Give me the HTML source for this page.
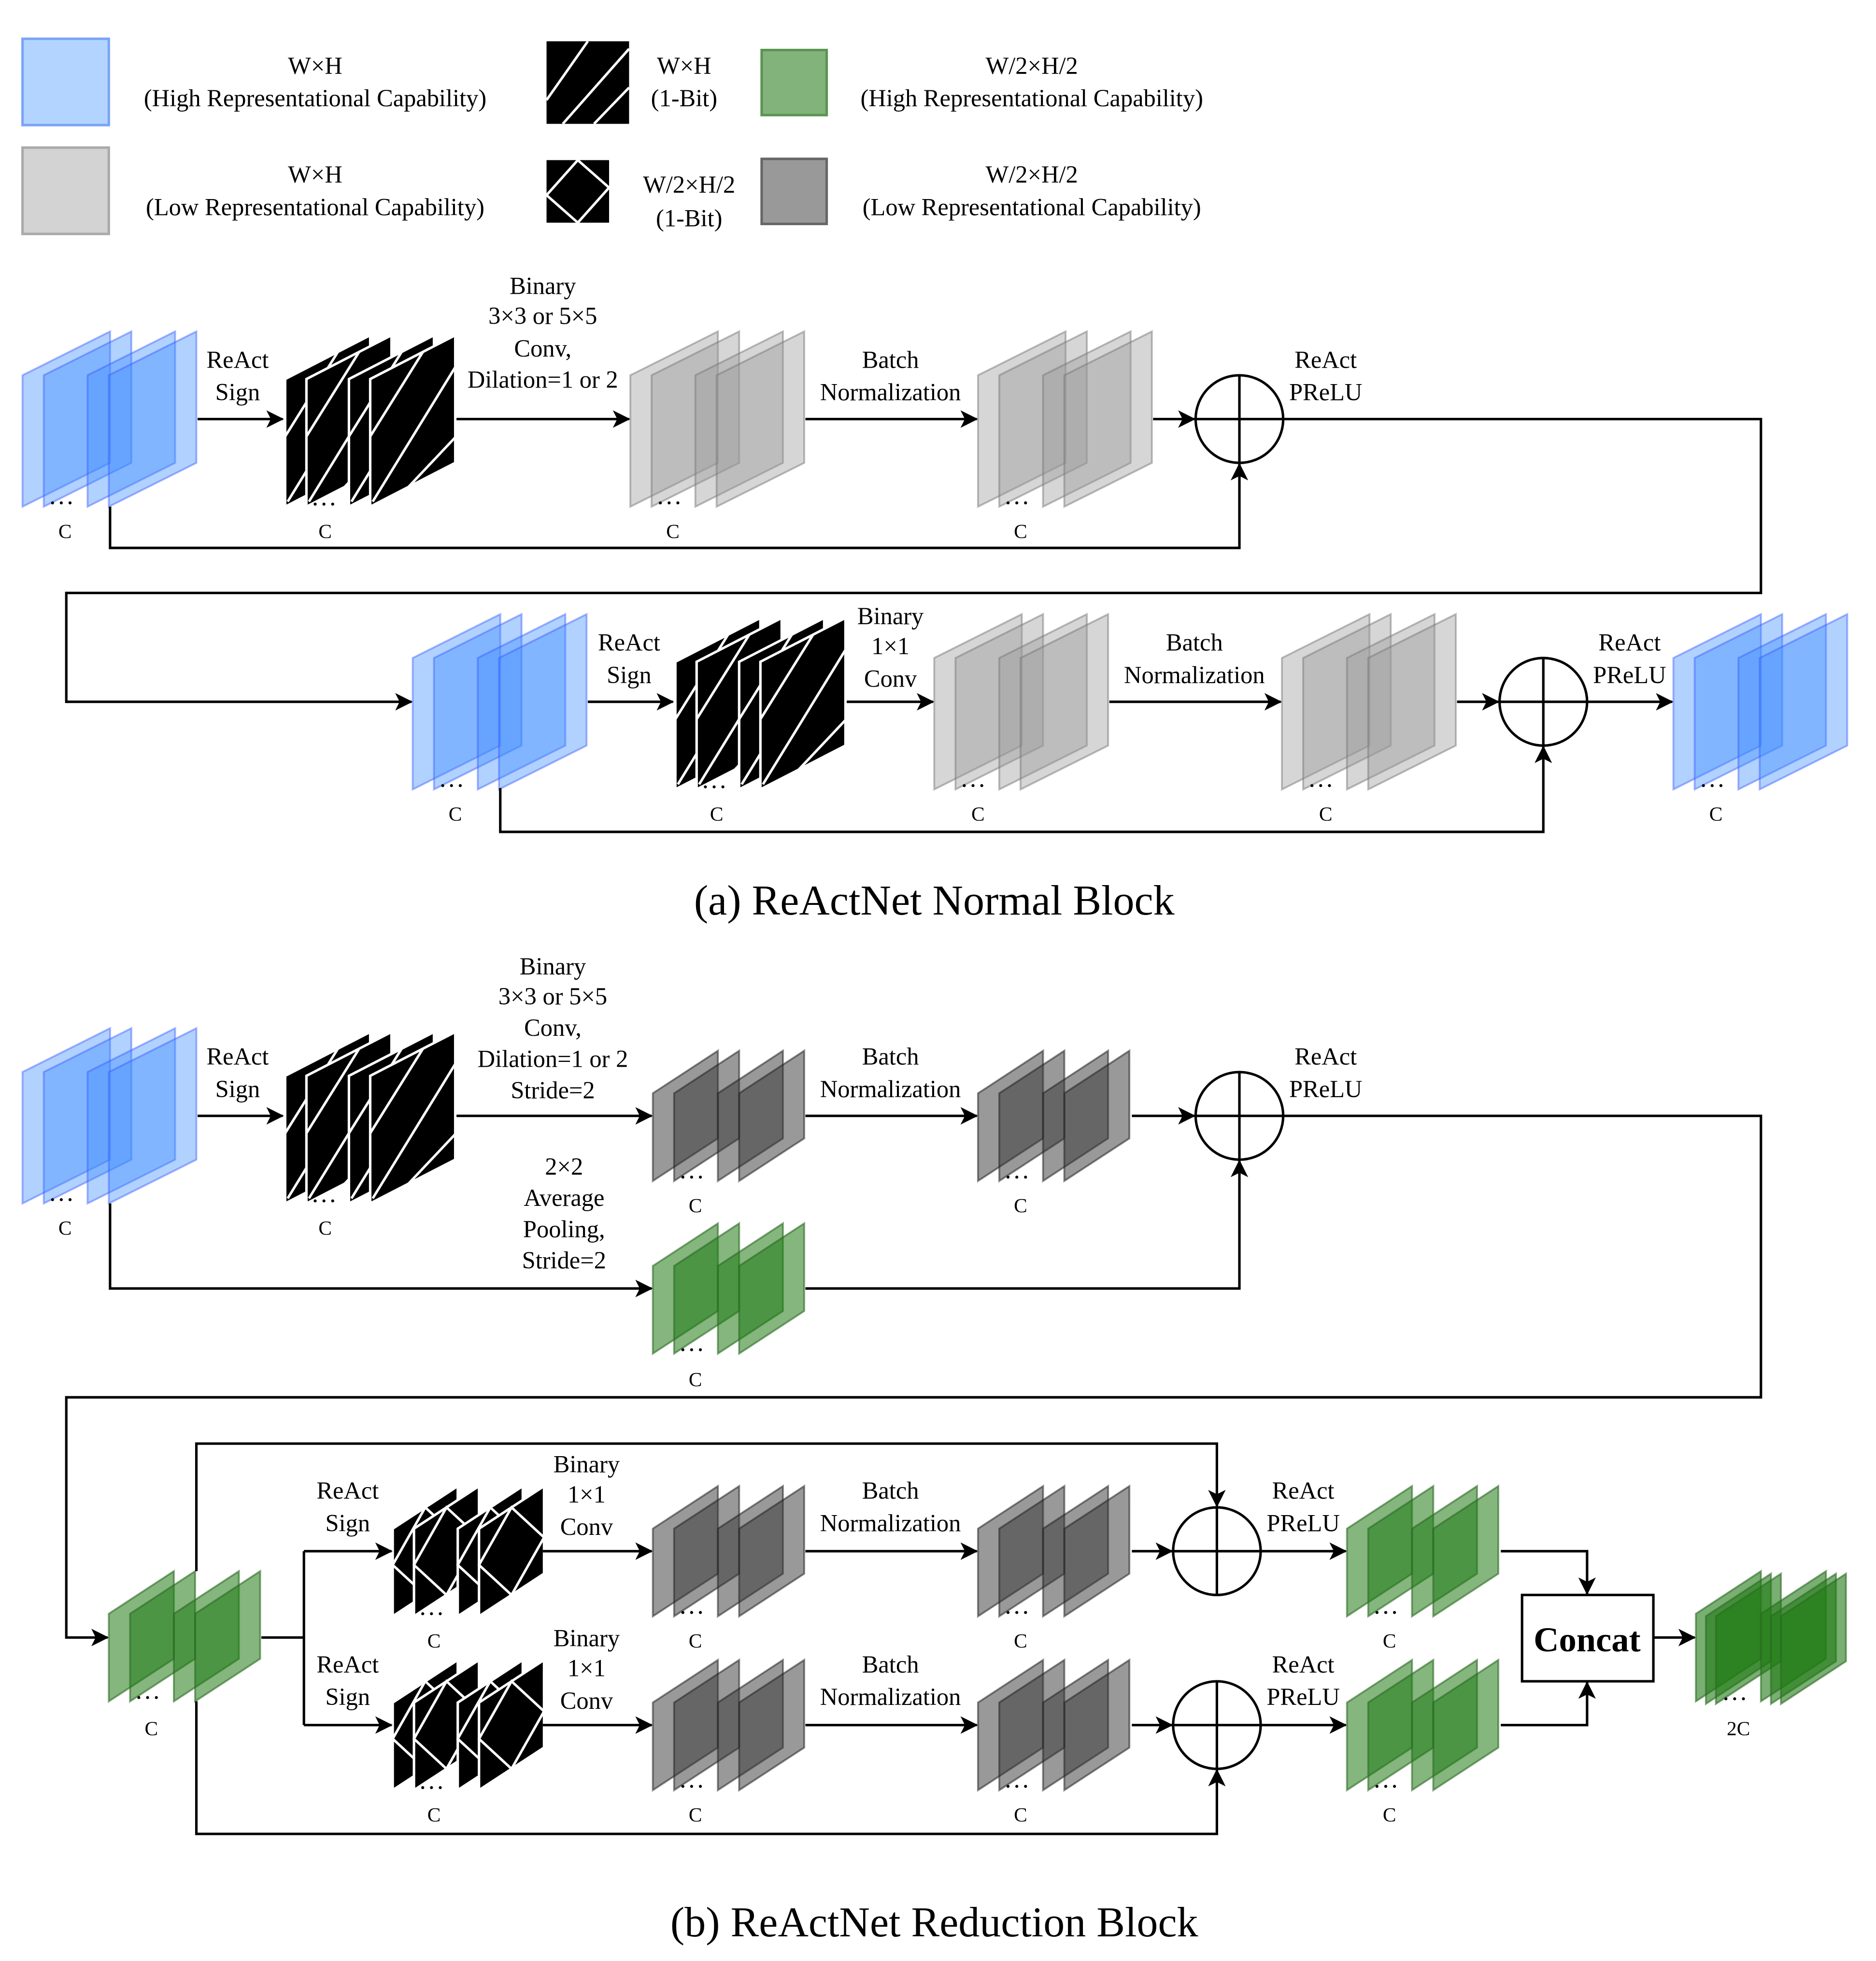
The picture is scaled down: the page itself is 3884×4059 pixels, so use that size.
<!DOCTYPE html>
<html><head><meta charset="utf-8"><style>
html,body{margin:0;padding:0;background:#fff}
svg{display:block}
svg text{font-family:'Liberation Serif','DejaVu Serif',serif;fill:#000;text-anchor:middle}
</style></head><body>
<svg id="s" width="3884" height="4059" viewBox="0 0 1500 1567.6" xmlns="http://www.w3.org/2000/svg" font-family="'Liberation Serif', 'DejaVu Serif', serif">
<defs>
<marker id="a" viewBox="0 0 14 14" refX="13" refY="7" markerWidth="14" markerHeight="14" markerUnits="userSpaceOnUse" orient="auto">
<path d="M0,0 L14,7 L0,14 L3.5,7 Z" fill="#000"/></marker>
</defs>
<rect width="1500" height="1567.6" fill="#fff"/>
<g id="shapes"></g>
<g id="lines" fill="none" stroke="#000" stroke-width="2">
<path d="M158,335 H226" marker-end="url(#a)"/>
<path d="M365,335 H503" marker-end="url(#a)"/>
<path d="M644,335 H781" marker-end="url(#a)"/>
<path d="M922,335 H955" marker-end="url(#a)"/>
<path d="M1026,335 H1408 V474 H53 V561 H329" marker-end="url(#a)"/>
<path d="M88,405 V438 H991 V371" marker-end="url(#a)"/>
<path d="M470,561 H538" marker-end="url(#a)"/>
<path d="M677,561 H746" marker-end="url(#a)"/>
<path d="M887,561 H1024" marker-end="url(#a)"/>
<path d="M1165,561 H1198" marker-end="url(#a)"/>
<path d="M1269,561 H1337" marker-end="url(#a)"/>
<path d="M400,630 V665 H1234 V597" marker-end="url(#a)"/>
<path d="M158,892 H226" marker-end="url(#a)"/>
<path d="M365,892 H521" marker-end="url(#a)"/>
<path d="M644,892 H781" marker-end="url(#a)"/>
<path d="M905,892 H955" marker-end="url(#a)"/>
<path d="M1026,892 H1408 V1117 H53 V1309 H86" marker-end="url(#a)"/>
<path d="M88,962 V1030 H521" marker-end="url(#a)"/>
<path d="M644,1030 H991 V928" marker-end="url(#a)"/>
<path d="M209,1309 H243"/>
<path d="M243,1240 V1379"/>
<path d="M243,1240 H313" marker-end="url(#a)"/>
<path d="M243,1379 H313" marker-end="url(#a)"/>
<path d="M157,1256 V1154 H973 V1204" marker-end="url(#a)"/>
<path d="M157,1360 V1466 H973 V1415" marker-end="url(#a)"/>
<path d="M434,1240 H521" marker-end="url(#a)"/>
<path d="M434,1379 H521" marker-end="url(#a)"/>
<path d="M644,1240 H781" marker-end="url(#a)"/>
<path d="M644,1379 H781" marker-end="url(#a)"/>
<path d="M905,1240 H937" marker-end="url(#a)"/>
<path d="M905,1379 H937" marker-end="url(#a)"/>
<path d="M1008,1240 H1076" marker-end="url(#a)"/>
<path d="M1008,1379 H1076" marker-end="url(#a)"/>
<path d="M1200,1240 H1269 V1274" marker-end="url(#a)"/>
<path d="M1200,1379 H1269 V1345" marker-end="url(#a)"/>
<path d="M1322,1309 H1355" marker-end="url(#a)"/>
<circle cx="991" cy="335" r="35"/><path d="M956,335 H1026 M991,300 V370"/>
<circle cx="1234" cy="561" r="35"/><path d="M1199,561 H1269 M1234,526 V596"/>
<circle cx="991" cy="892" r="35"/><path d="M956,892 H1026 M991,857 V927"/>
<circle cx="973" cy="1240" r="35"/><path d="M938,1240 H1008 M973,1205 V1275"/>
<circle cx="973" cy="1379" r="35"/><path d="M938,1379 H1008 M973,1344 V1414"/>
<rect x="1217" y="1275" width="105" height="69" fill="#fff"/>
</g>
<g font-size="19.5" font-family="'Liberation Serif', 'DejaVu Serif', serif">
<text x="252" y="59">W×H</text><text x="252" y="85">(High Representational Capability)</text>
<text x="252" y="146">W×H</text><text x="252" y="172">(Low Representational Capability)</text>
<text x="547" y="59">W×H</text><text x="547" y="85">(1-Bit)</text>
<text x="551" y="154">W/2×H/2</text><text x="551" y="181">(1-Bit)</text>
<text x="825" y="59">W/2×H/2</text><text x="825" y="85">(High Representational Capability)</text>
<text x="825" y="146">W/2×H/2</text><text x="825" y="172">(Low Representational Capability)</text>
<text x="190" y="294">ReAct</text><text x="190" y="320">Sign</text>
<text x="434" y="235">Binary</text><text x="434" y="259">3×3 or 5×5</text><text x="434" y="285">Conv,</text><text x="434" y="310">Dilation=1 or 2</text>
<text x="712" y="294">Batch</text><text x="712" y="320">Normalization</text>
<text x="1060" y="294">ReAct</text><text x="1060" y="320">PReLU</text>
<text x="503" y="520">ReAct</text><text x="503" y="546">Sign</text>
<text x="712" y="499">Binary</text><text x="712" y="523">1×1</text><text x="712" y="549">Conv</text>
<text x="955" y="520">Batch</text><text x="955" y="546">Normalization</text>
<text x="1303" y="520">ReAct</text><text x="1303" y="546">PReLU</text>
<text x="190" y="851">ReAct</text><text x="190" y="877">Sign</text>
<text x="442" y="779">Binary</text><text x="442" y="803">3×3 or 5×5</text><text x="442" y="828">Conv,</text><text x="442" y="853">Dilation=1 or 2</text><text x="442" y="878">Stride=2</text>
<text x="712" y="851">Batch</text><text x="712" y="877">Normalization</text>
<text x="1060" y="851">ReAct</text><text x="1060" y="877">PReLU</text>
<text x="451" y="939">2×2</text><text x="451" y="964">Average</text><text x="451" y="989">Pooling,</text><text x="451" y="1014">Stride=2</text>
<text x="278" y="1198">ReAct</text><text x="278" y="1224">Sign</text>
<text x="278" y="1337">ReAct</text><text x="278" y="1363">Sign</text>
<text x="469" y="1177">Binary</text><text x="469" y="1201">1×1</text><text x="469" y="1227">Conv</text>
<text x="469" y="1316">Binary</text><text x="469" y="1340">1×1</text><text x="469" y="1366">Conv</text>
<text x="712" y="1198">Batch</text><text x="712" y="1224">Normalization</text>
<text x="712" y="1337">Batch</text><text x="712" y="1363">Normalization</text>
<text x="1042" y="1198">ReAct</text><text x="1042" y="1224">PReLU</text>
<text x="1042" y="1337">ReAct</text><text x="1042" y="1363">PReLU</text>
</g>
<g font-size="16" font-family="'Liberation Serif', 'DejaVu Serif', serif">
<text x="52" y="430">C</text><text x="260" y="430">C</text><text x="538" y="430">C</text><text x="816" y="430">C</text>
<text x="364" y="656">C</text><text x="573" y="656">C</text><text x="782" y="656">C</text><text x="1060" y="656">C</text><text x="1372" y="656">C</text>
<text x="52" y="987">C</text><text x="260" y="987">C</text><text x="556" y="969">C</text><text x="816" y="969">C</text><text x="556" y="1108">C</text>
<text x="121" y="1387">C</text><text x="347" y="1317">C</text><text x="556" y="1317">C</text><text x="816" y="1317">C</text><text x="1111" y="1317">C</text>
<text x="347" y="1456">C</text><text x="556" y="1456">C</text><text x="816" y="1456">C</text><text x="1111" y="1456">C</text>
<text x="1390" y="1387">2C</text>
</g>
<text x="1269" y="1320" font-size="28" font-weight="bold" font-family="'Liberation Serif', 'DejaVu Serif', serif">Concat</text>
<text x="747" y="731" font-size="34" font-family="'Liberation Serif', 'DejaVu Serif', serif">(a) ReActNet Normal Block</text>
<text x="747" y="1548" font-size="34" font-family="'Liberation Serif', 'DejaVu Serif', serif">(b) ReActNet Reduction Block</text>
</svg>
<script>
var NS="http://www.w3.org/2000/svg",G=document.getElementById("shapes");
function el(t,a){var e=document.createElementNS(NS,t);for(var k in a)e.setAttribute(k,a[k]);G.appendChild(e);return e;}
function poly(x,y,w,h,s,st){var p=[x+","+(y+s),(x+w)+","+y,(x+w)+","+(y+h),x+","+(y+s+h)].join(" ");var a={points:p};for(var k in st)a[k]=st[k];el("polygon",a);}
var BLUE={fill:"#3d8bff","fill-opacity":"0.4",stroke:"#3a5cff","stroke-opacity":"0.45","stroke-width":"1.5"};
var LGRAY={fill:"#999","fill-opacity":"0.4",stroke:"#777","stroke-opacity":"0.5","stroke-width":"1.5"};
var DGRAY={fill:"#333","fill-opacity":"0.5",stroke:"#222","stroke-opacity":"0.55","stroke-width":"1.5"};
var GREEN={fill:"#1f7a14","fill-opacity":"0.55",stroke:"#2d6a24","stroke-opacity":"0.6","stroke-width":"1.5"};
var GREEN2={fill:"#1f7a14","fill-opacity":"0.6",stroke:"#2d6a24","stroke-opacity":"0.6","stroke-width":"1.5"};
function dots(x,y){for(var i=0;i<3;i++)el("circle",{cx:x+i*7,cy:y,r:1.2,fill:"#000"});}
function stack(x,y,big,st){var w=big?70:52,h=big?105:70,s=big?35:34;[0,17,52,69].forEach(function(o){poly(x+o,y,w,h,s,st);});dots(x+24,y+s+h-3);}
function bstack(x,y){var w=68,h=102,s=35;[0,17,51,68].forEach(function(o){var X=x+o;poly(X,y,w,h,s,{fill:"#000",stroke:"#fff","stroke-width":"2"});
el("line",{x1:X,y1:y+s+0.45*h,x2:X+w*0.62,y2:y+s-0.62*s,stroke:"#fff","stroke-width":"2"});
el("line",{x1:X+2,y1:y+s+h-4,x2:X+w,y2:y+0.25*h,stroke:"#fff","stroke-width":"2"});
el("line",{x1:X+0.45*w,y1:y+s+h-0.45*s,x2:X+w,y2:y+0.8*h,stroke:"#fff","stroke-width":"2"});});dots(x+24,y+s+h-2);}
function dstack(x,y){var w=52,h=70,s=34;[0,17,52,69].forEach(function(o){var X=x+o;poly(X,y,w,h,s,{fill:"#000",stroke:"#fff","stroke-width":"2"});
var tm=[X+w*0.5,y+s*0.5],rm=[X+w,y+h*0.5+6],bm=[X+w*0.5,y+s*0.5+h],lm=[X,y+s+h*0.5-6];
el("polygon",{points:[tm,rm,bm,lm].map(function(p){return p.join(",");}).join(" "),fill:"none",stroke:"#fff","stroke-width":"2"});});dots(x+24,y+s+h-2);}
el("rect",{x:18,y:31,width:69,height:69,fill:"#b3d4ff",stroke:"#7aa4f8","stroke-width":"2"});
el("rect",{x:18,y:118,width:69,height:69,fill:"#d3d3d3",stroke:"#aaa","stroke-width":"2"});
el("rect",{x:437,y:33,width:66,height:66,fill:"#000"});
[[437,80,470,33],[450,99,503,39],[475,99,503,70]].forEach(function(l){el("line",{x1:l[0],y1:l[1],x2:l[2],y2:l[3],stroke:"#fff","stroke-width":"2"});});
el("rect",{x:437,y:128,width:50,height:50,fill:"#000"});
el("polygon",{points:"462,128 487,150 462,178 437,156",fill:"none",stroke:"#fff","stroke-width":"2"});
el("rect",{x:609,y:40,width:52,height:52,fill:"#82b37b",stroke:"#5a9451","stroke-width":"2"});
el("rect",{x:609,y:127,width:52,height:52,fill:"#999",stroke:"#666","stroke-width":"2"});
stack(18,265,true,BLUE);bstack(228,268);stack(504,265,true,LGRAY);stack(782,265,true,LGRAY);
stack(330,491,true,BLUE);bstack(540,494);stack(747,491,true,LGRAY);stack(1025,491,true,LGRAY);stack(1338,491,true,BLUE);
stack(18,822,true,BLUE);bstack(228,825);stack(522,840,false,DGRAY);stack(782,840,false,DGRAY);stack(522,978,false,GREEN);
stack(87,1256,false,GREEN);
dstack(314,1188);dstack(314,1327);
stack(522,1188,false,DGRAY);stack(522,1327,false,DGRAY);stack(782,1188,false,DGRAY);stack(782,1327,false,DGRAY);
stack(1077,1188,false,GREEN);stack(1077,1327,false,GREEN);
[0,8,16,52,60,68].forEach(function(o){poly(1356+o,1256+(o%52?2:0),52,70,34,GREEN2);});dots(1380,1358);
</script>
</body></html>
